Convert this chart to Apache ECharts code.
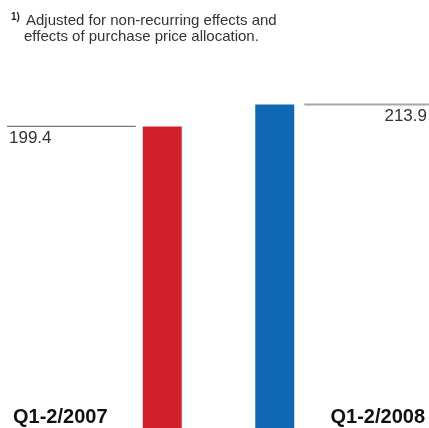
<!DOCTYPE html>
<html>
<head>
<meta charset="utf-8">
<script src="https://cdn.jsdelivr.net/npm/echarts@6/dist/echarts.min.js"></script>
<style>
  html, body { margin: 0; padding: 0; background: #fff; }
  #chart { width: 429px; height: 428px; }
</style>
</head>
<body>
<div id="chart"></div>
<script>
var periods = ['Q1-2/2007', 'Q1-2/2008'];
var values = [199.4, 213.9];
var footnote = ['Adjusted for non-recurring effects and', 'effects of purchase price allocation.'];

var barColors = ['#d2202a', '#1068b4'];
var font = 'Helvetica, "Liberation Sans", Arial, sans-serif';

var myChart = echarts.init(document.getElementById('chart'));

var option = {
  animation: false,
  grid: { left: 106, width: 225, top: 0, bottom: 0 },
  xAxis: {
    type: 'category',
    data: periods,
    show: false
  },
  yAxis: {
    type: 'value',
    min: 0,
    max: 283,
    show: false
  },
  series: [{
    type: 'bar',
    barWidth: 39,
    data: values.map(function(v, i) {
      return { value: v, itemStyle: { color: barColors[i] } };
    })
  }]
};
myChart.setOption(option);

// lines at bar tops, value and period labels
function addLabels() {
  var elements = [];
  var w = myChart.getWidth();
  values.forEach(function(v, i) {
    var cx = myChart.convertToPixel({ xAxisIndex: 0 }, periods[i]);
    var y = myChart.convertToPixel({ yAxisIndex: 0 }, v);
    var left = i === 0;
    var x1 = left ? 7 : cx + 19.5 + 10;
    var x2 = left ? cx - 19.5 - 7 : w;
    elements.push({
      type: 'line',
      shape: { x1: x1, y1: y, x2: x2, y2: y },
      style: { stroke: left ? '#777' : '#a8a8a8', lineWidth: left ? 1.2 : 2 }
    });
    elements.push({
      type: 'text',
      x: left ? 9 : w - 2,
      y: y + 12,
      style: {
        text: v.toFixed(1),
        font: '17px ' + font,
        fill: '#333',
        align: left ? 'left' : 'right',
        verticalAlign: 'middle'
      }
    });
    elements.push({
      type: 'text',
      x: left ? 13 : w - 4,
      y: 417,
      style: {
        text: periods[i],
        font: 'bold 20px ' + font,
        fill: '#111',
        align: left ? 'left' : 'right',
        verticalAlign: 'middle'
      }
    });
  });
  elements.push({
    type: 'text',
    x: 11,
    y: 17,
    style: { text: '1)', font: 'bold 10px ' + font, fill: '#222', verticalAlign: 'middle' }
  });
  footnote.forEach(function(line, k) {
    elements.push({
      type: 'text',
      x: k === 0 ? 26 : 24,
      y: 21 + k * 16,
      style: { text: line, font: '15px ' + font, fill: '#333', verticalAlign: 'middle' }
    });
  });
  myChart.setOption({ graphic: elements });
}

setTimeout(addLabels, 0);
</script>
</body>
</html>
